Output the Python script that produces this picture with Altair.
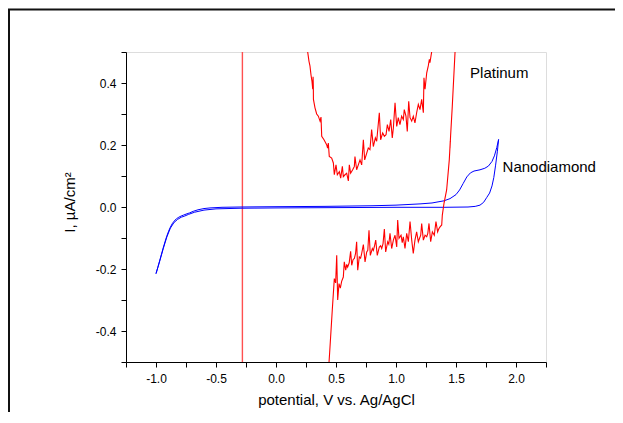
import altair as alt
import pandas as pd

# ---------------- data ----------------
# Nanodiamond cyclic voltammogram (forward then reverse)
nd_v = [-1.000, -0.985, -0.970, -0.955, -0.940, -0.925, -0.910, -0.895, -0.880, -0.865,
        -0.850, -0.830, -0.810, -0.790, -0.770, -0.750, -0.720, -0.690, -0.650, -0.600,
        -0.550, -0.450, -0.300, 0.000, 0.400, 0.800, 1.000, 1.200, 1.300, 1.400,
        1.450, 1.500, 1.530, 1.560, 1.590, 1.620, 1.650, 1.700, 1.740, 1.770,
        1.800, 1.820, 1.840, 1.855,
        1.845, 1.830, 1.815, 1.800, 1.780, 1.755, 1.730, 1.700, 1.660, 1.600,
        1.400, 1.000, 0.500, 0.000, -0.300, -0.500, -0.600, -0.680, -0.730, -0.760,
        -0.790, -0.820, -0.850, -0.880, -0.910, -0.940, -0.970, -1.000]
nd_i = [-0.215, -0.195, -0.174, -0.153, -0.132, -0.112, -0.094, -0.078, -0.065, -0.054,
        -0.046, -0.038, -0.033, -0.029, -0.026, -0.023, -0.019, -0.014, -0.009, -0.005,
        -0.003, -0.001, 0.000, 0.001, 0.002, 0.004, 0.006, 0.010, 0.013, 0.020,
        0.027, 0.040, 0.055, 0.076, 0.097, 0.110, 0.116, 0.120, 0.125, 0.132,
        0.147, 0.165, 0.192, 0.218,
        0.180, 0.135, 0.095, 0.068, 0.045, 0.030, 0.015, 0.006, 0.002, 0.000,
        -0.001, -0.001, -0.002, -0.003, -0.004, -0.006, -0.010, -0.017, -0.024, -0.029,
        -0.033, -0.040, -0.050, -0.068, -0.097, -0.135, -0.176, -0.215]

# Platinum, upper (anodic return) branch
pt_up_v = [0.264, 0.275, 0.283, 0.292, 0.300, 0.306, 0.309, 0.311, 0.312, 0.325,
           0.339, 0.353, 0.367, 0.375, 0.381, 0.400, 0.422, 0.430, 0.436, 0.444,
           0.464, 0.478, 0.486, 0.500, 0.511, 0.528, 0.539, 0.553, 0.561, 0.575,
           0.589, 0.603, 0.611, 0.622, 0.639, 0.653, 0.658, 0.672, 0.686, 0.700,
           0.714, 0.728, 0.739, 0.756, 0.769, 0.783, 0.797, 0.811, 0.828, 0.839,
           0.861, 0.872, 0.889, 0.903, 0.917, 0.928, 0.942, 0.956, 0.969, 0.978,
           0.992, 1.006, 1.019, 1.033, 1.047, 1.061, 1.069, 1.083, 1.094, 1.106,
           1.117, 1.131, 1.144, 1.158, 1.172, 1.186, 1.200, 1.214, 1.228, 1.233,
           1.242, 1.256, 1.269, 1.278, 1.283, 1.297]
pt_up_i = [0.500, 0.470, 0.455, 0.425, 0.405, 0.380, 0.420, 0.390, 0.347, 0.320,
           0.300, 0.293, 0.277, 0.290, 0.228, 0.217, 0.201, 0.190, 0.206, 0.163,
           0.158, 0.142, 0.104, 0.136, 0.104, 0.114, 0.093, 0.131, 0.098, 0.104,
           0.109, 0.084, 0.136, 0.109, 0.120, 0.131, 0.163, 0.120, 0.136, 0.152,
           0.136, 0.217, 0.152, 0.174, 0.190, 0.185, 0.250, 0.195, 0.223, 0.212,
           0.304, 0.217, 0.239, 0.228, 0.233, 0.266, 0.244, 0.282, 0.223, 0.255,
           0.336, 0.260, 0.288, 0.266, 0.293, 0.282, 0.314, 0.293, 0.244, 0.341,
           0.288, 0.277, 0.293, 0.271, 0.304, 0.331, 0.314, 0.347, 0.304, 0.417,
           0.380, 0.433, 0.455, 0.476, 0.466, 0.500]

# Platinum, lower (cathodic) branch rising into the oxidation wall
pt_low_v = [0.442, 0.447, 0.469, 0.486, 0.497, 0.506, 0.514, 0.525, 0.536, 0.547,
            0.561, 0.569, 0.581, 0.589, 0.597, 0.610, 0.622, 0.631, 0.642, 0.653,
            0.663, 0.672, 0.681, 0.694, 0.705, 0.714, 0.728, 0.742, 0.756, 0.765,
            0.775, 0.786, 0.803, 0.811, 0.819, 0.831, 0.844, 0.861, 0.872, 0.881,
            0.892, 0.903, 0.914, 0.931, 0.940, 0.950, 0.964, 0.978, 0.992, 1.006,
            1.014, 1.025, 1.042, 1.052, 1.061, 1.075, 1.089, 1.103, 1.117, 1.131,
            1.144, 1.158, 1.172, 1.186, 1.197, 1.206, 1.214, 1.228, 1.242, 1.256,
            1.265, 1.275, 1.289, 1.303, 1.319, 1.333, 1.347, 1.357, 1.367, 1.381,
            1.386, 1.400, 1.422, 1.444, 1.448, 1.452, 1.450, 1.455, 1.469, 1.492]
pt_low_i = [-0.500, -0.470, -0.332, -0.231, -0.245, -0.156, -0.300, -0.247, -0.262, -0.240,
            -0.226, -0.177, -0.204, -0.185, -0.194, -0.180, -0.143, -0.188, -0.170, -0.166,
            -0.150, -0.112, -0.204, -0.161, -0.165, -0.150, -0.121, -0.177, -0.145, -0.140,
            -0.075, -0.156, -0.134, -0.140, -0.129, -0.107, -0.156, -0.129, -0.125, -0.134,
            -0.118, -0.071, -0.145, -0.112, -0.120, -0.085, -0.134, -0.107, -0.091, -0.129,
            -0.042, -0.101, -0.091, -0.115, -0.096, -0.134, -0.085, -0.112, -0.047, -0.107,
            -0.150, -0.107, -0.080, -0.112, -0.100, -0.091, -0.053, -0.107, -0.091, -0.096,
            -0.085, -0.053, -0.112, -0.080, -0.091, -0.047, -0.080, -0.070, -0.064, -0.058,
            -0.026, 0.012, 0.055, 0.152, 0.180, 0.210, 0.190, 0.230, 0.325, 0.500]

# Platinum vertical trace
pt_vline_v = [-0.28]

# curve labels
label_text = ["Platinum", "Nanodiamond"]
label_v = [1.617, 1.888]
label_i = [0.417, 0.114]

x_ticks = [-1.25, -1.0, -0.75, -0.5, -0.25, 0.0, 0.25, 0.5, 0.75, 1.0, 1.25, 1.5, 1.75, 2.0, 2.25]
y_ticks = [-0.5, -0.4, -0.3, -0.2, -0.1, 0.0, 0.1, 0.2, 0.3, 0.4, 0.5]

# ---------------- tables ----------------
nd_df = pd.DataFrame({"v": nd_v, "i": nd_i, "k": range(len(nd_v))})
pt_df = pd.concat([
    pd.DataFrame({"v": pt_up_v, "i": pt_up_i, "k": range(len(pt_up_v)), "seg": "up"}),
    pd.DataFrame({"v": pt_low_v, "i": pt_low_i, "k": range(len(pt_low_v)), "seg": "low"}),
], ignore_index=True)
vline_df = pd.DataFrame({"v": pt_vline_v})
lab_df = pd.DataFrame({"v": label_v, "i": label_i, "t": label_text})
dummy = pd.DataFrame({"a": [0]})

FONT = "Liberation Sans"
W, H = 420, 310
PAD = {"left": 118, "top": 44, "right": 69, "bottom": 50}

lab_expr_x = ("abs(round(datum.value*4)) % 2 == 0 ? "
              "(datum.value < -0.001 ? '-' : '') + format(abs(datum.value), '.1f') : ''")
lab_expr_y = ("abs(round(datum.value*10)) % 2 == 0 && abs(datum.value) < 0.45 ? "
              "(datum.value < -0.001 ? '-' : '') + format(abs(datum.value), '.1f') : ''")

xs = alt.Scale(domain=[-1.25, 2.25], nice=False, zero=False)
ys = alt.Scale(domain=[-0.5, 0.5], nice=False, zero=False)

ax_x = alt.Axis(values=x_ticks, labelExpr=lab_expr_x, title="potential, V vs. Ag/AgCl",
                grid=False, tickSize=5, labelFontSize=12, titleFontSize=15,
                labelFont=FONT, titleFont=FONT, titleFontWeight="normal",
                domainColor="black", tickColor="black", labelColor="black", titleColor="black",
                labelBaseline="alphabetic", labelPadding=15, titleBaseline="alphabetic",
                titleY=42, labelFlush=False, labelOverlap=False)
ax_y = alt.Axis(values=y_ticks, labelExpr=lab_expr_y, title="I, µA/cm²",
                grid=False, tickSize=5, labelFontSize=12, titleFontSize=15,
                labelFont=FONT, titleFont=FONT, titleFontWeight="normal",
                domainColor="black", tickColor="black", labelColor="black", titleColor="black",
                labelPadding=5, titleAngle=270, titleBaseline="alphabetic", titleAlign="center",
                titleX=-52, titleY=150, labelFlush=False, labelOverlap=False)

X = alt.X("v:Q", scale=xs, axis=ax_x)
Y = alt.Y("i:Q", scale=ys, axis=ax_y)

border_left = alt.Chart(dummy).mark_rule(color="#111111", strokeWidth=2).encode(
    x=alt.value(-117), y=alt.value(-43), y2=alt.value(H + PAD["bottom"] + 5))
border_top = alt.Chart(dummy).mark_rule(color="#111111", strokeWidth=2).encode(
    x=alt.value(-118), x2=alt.value(W + PAD["right"] + 10), y=alt.value(-42.5))

vline = alt.Chart(vline_df).mark_rule(color="#ff5050", strokeWidth=1.4).encode(x=X)

nd_line = alt.Chart(nd_df).mark_line(color="#0000ff", strokeWidth=1.0, clip=True).encode(
    x=X, y=Y, order="k:Q")

pt_line = alt.Chart(pt_df).mark_line(color="#ff0000", strokeWidth=1.1, clip=True).encode(
    x=X, y=Y, detail="seg:N", order="k:Q")

labels = alt.Chart(lab_df).mark_text(font=FONT, fontSize=15, align="left",
                                     baseline="alphabetic", color="black").encode(
    x=X, y=Y, text="t:N")

chart = alt.layer(border_left, border_top, vline, nd_line, pt_line, labels).properties(
    width=W, height=H,
    autosize=alt.AutoSizeParams(type="none"),
    padding=PAD,
).configure_view(stroke=None).configure(background="white")

chart.save("out.html", embed_options={"renderer": "svg", "actions": False})
